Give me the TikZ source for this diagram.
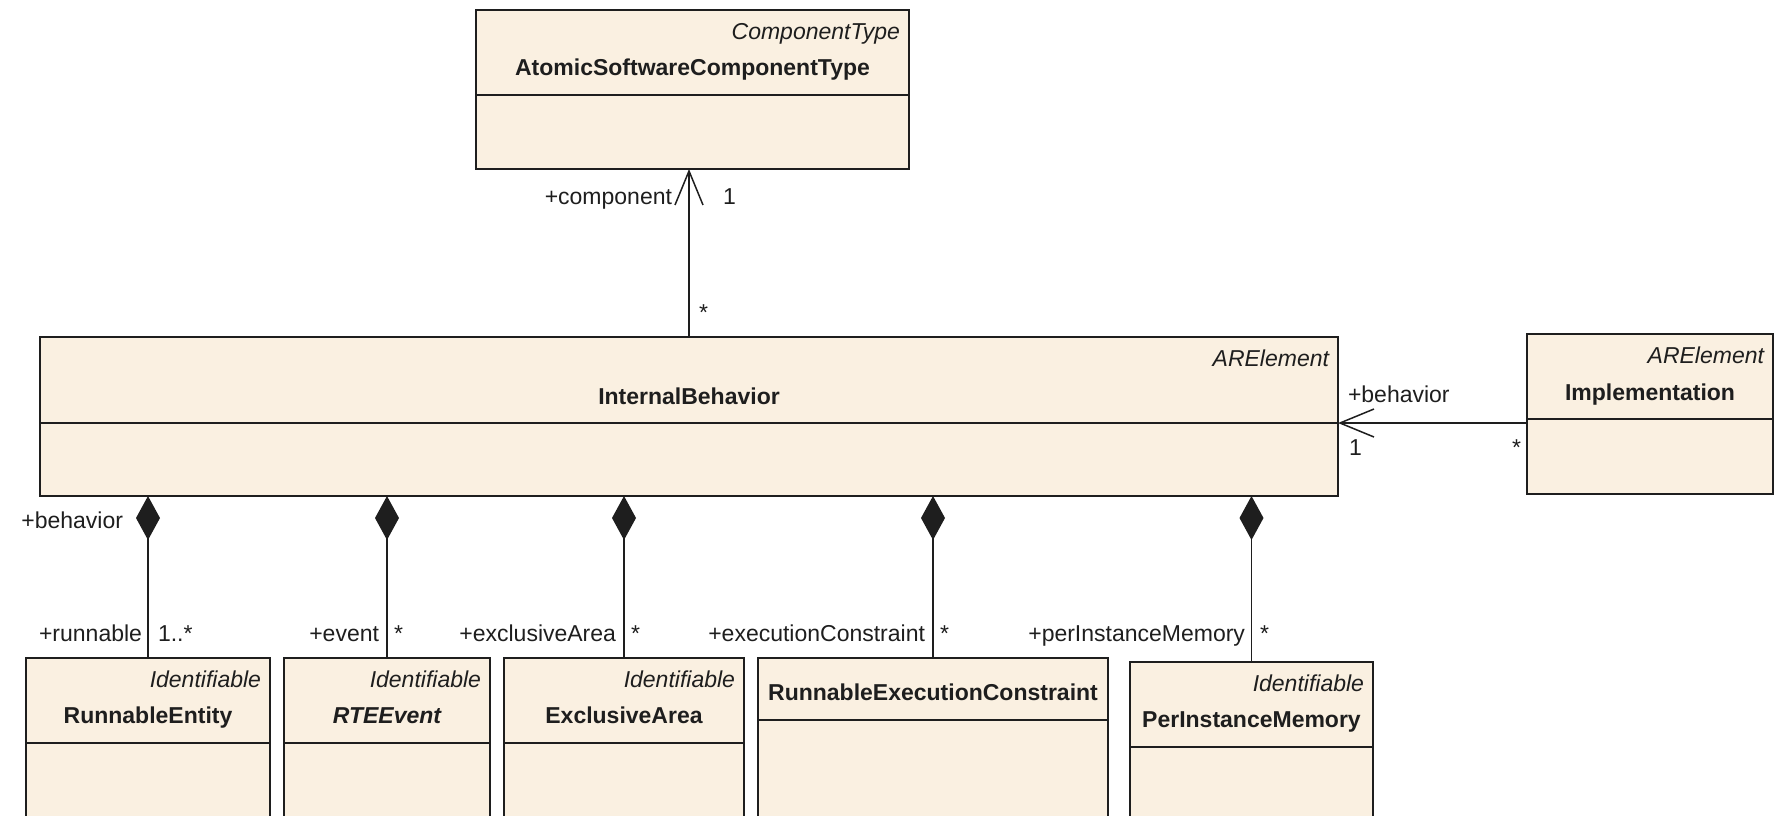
\documentclass[tikz,border=0pt]{standalone}
\usepackage{fontspec}
\setmainfont{Liberation Sans}
\usetikzlibrary{arrows.meta}

\definecolor{classfill}{RGB}{250,240,225}
\definecolor{ink}{RGB}{30,30,30}

% \umlclass{name}{left}{top}{right}{bottom}{divider y}{stereotype}{title}{title y}
\newcommand{\umlclass}[9]{%
  \node[classbox, anchor=north west,
        minimum width={(#4-#2)*1pt}, minimum height={(#5-#3)*1pt}] (#1) at (#2,#3) {};
  \coordinate (#1-div) at (#2,#6);
  \draw[classline] (#2,#6) -- (#4,#6);
  \node[stereo, anchor=east] (#1-st) at (#4-9,#3+21) {#7};
  \node[title] (#1-ti) at ({(#2+#4)/2},#9) {#8};
}

\begin{document}
\begin{tikzpicture}[x=1pt, y=-1pt,
  classbox/.style={draw=ink, fill=classfill, line width=1.8pt, inner sep=0pt, outer sep=0pt},
  classline/.style={draw=ink, line width=1.8pt},
  txt/.style={inner sep=0pt, outer sep=0pt, text height=16.5pt, text depth=0pt,
              text=ink, font=\fontsize{23}{27}\selectfont},
  stereo/.style={txt, font=\fontsize{23}{27}\selectfont\itshape},
  title/.style={txt, font=\fontsize{23}{27}\selectfont\bfseries},
  role/.style={txt},
  assoc/.style={draw=ink, line width=1.5pt},
  navigable/.style={assoc, -{Straight Barb[length=34pt, width=28pt]}},
  composite/.style={assoc, {Diamond[length=44pt, width=24pt]}-},
]
\useasboundingbox (0,0) rectangle (1775,815);
\clip (0,0) rectangle (1775,815);

% classes
\umlclass{atc}{476}{10}{909}{169}{95}{ComponentType}{AtomicSoftwareComponentType}{67}
\umlclass{ib}{40}{337}{1338}{496}{423}{ARElement}{InternalBehavior}{396}
\umlclass{impl}{1527}{334}{1773}{494}{419}{ARElement}{Implementation}{392}
\umlclass{re}{26}{658}{270}{840}{743}{Identifiable}{RunnableEntity}{715}
\umlclass{rte}{284}{658}{490}{840}{743}{Identifiable}{\itshape RTEEvent}{715}
\umlclass{ea}{504}{658}{744}{840}{743}{Identifiable}{ExclusiveArea}{715}
\umlclass{rec}{758}{658}{1108}{840}{720}{}{RunnableExecutionConstraint}{692}
\umlclass{pim}{1130}{662}{1373}{840}{747}{Identifiable}{PerInstanceMemory}{719}

% navigable associations
\draw[navigable] (ib.north) -- (ib.north |- atc.south);
\draw[navigable] (impl.west |- ib-div) -- (ib.east |- ib-div);

% compositions
\draw[composite] (ib.south -| re.north) -- (re.north);
\draw[composite] (ib.south -| rte.north) -- (rte.north);
\draw[composite] (ib.south -| ea.north) -- (ea.north);
\draw[composite] (ib.south -| rec.north) -- (rec.north);
\draw[composite] (ib.south -| pim.north) -- (pim.north);

% role names and multiplicities
\node[role, anchor=east] (r-comp) at (672,196) {+component};
\node[role, anchor=west] (m-comp) at (723,196) {1};
\node[role, anchor=west] (m-ibup) at (699,312) {*};

\node[role, anchor=west] (r-beh) at (1348,394) {+behavior};
\node[role, anchor=west] (m-beh) at (1349,447) {1};
\node[role, anchor=east] (m-impl) at (1521,447) {*};

\node[role, anchor=east] (r-owner) at (123,520) {+behavior};

\node[role, anchor=east] (r-run) at (142,633) {+runnable};
\node[role, anchor=west] (m-run) at (158,633) {1..*};
\node[role, anchor=east] (r-ev) at (379,633) {+event};
\node[role, anchor=west] (m-ev) at (394,633) {*};
\node[role, anchor=east] (r-ea) at (616,633) {+exclusiveArea};
\node[role, anchor=west] (m-ea) at (631,633) {*};
\node[role, anchor=east] (r-ec) at (925,633) {+executionConstraint};
\node[role, anchor=west] (m-ec) at (940,633) {*};
\node[role, anchor=east] (r-pim) at (1245,633) {+perInstanceMemory};
\node[role, anchor=west] (m-pim) at (1260,633) {*};
\end{tikzpicture}
\end{document}
